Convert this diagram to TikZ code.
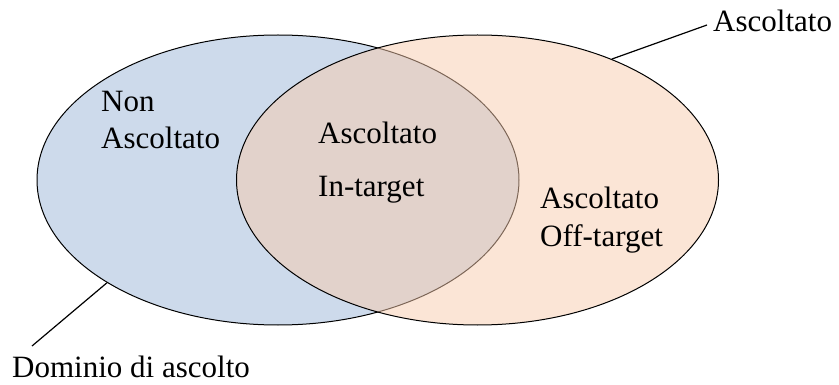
\documentclass[tikz,border=0pt]{standalone}
\usepackage{fontspec}
\setmainfont{Liberation Serif}
\usetikzlibrary{shapes.geometric}
\definecolor{setblue}{RGB}{205,218,235}
\definecolor{setorange}{RGB}{248,203,173}
\begin{document}
\begin{tikzpicture}[x=1pt,y=-1pt,
  setshape/.style={ellipse, draw=black, line width=1pt, inner sep=0pt,
    minimum width=482pt, minimum height=290pt},
  label/.style={anchor=base west, inner sep=0pt, font=\fontsize{31}{36}\selectfont},
  leader/.style={draw=black, line width=1.2pt}]
\useasboundingbox (0,0) rectangle (839,385);
% the two sets
\node[setshape, fill=setblue] (dom) at (278,180) {};
\node[setshape, fill=setorange, fill opacity=0.5] (asc) at (477.5,180) {};
% region texts
\node[label] (non1) at (101,112) {Non};
\node[label] (non2) at (101,149) {Ascoltato};
\node[label] (in1) at (318,144) {Ascoltato};
\node[label] (in2) at (318,197) {In-target};
\node[label] (off1) at (540,209) {Ascoltato};
\node[label] (off2) at (540,247) {Off-target};
% set names with leader lines
\node[label] (ascname) at (713,32) {Ascoltato};
\node[label] (domname) at (12,377) {Dominio di ascolto};
\coordinate (ascend) at (707,25);
\coordinate (domend) at (32,346);
\draw[leader] (asc.42) -- (ascend);
\draw[leader] (dom.211.5) -- (domend);
\end{tikzpicture}
\end{document}
